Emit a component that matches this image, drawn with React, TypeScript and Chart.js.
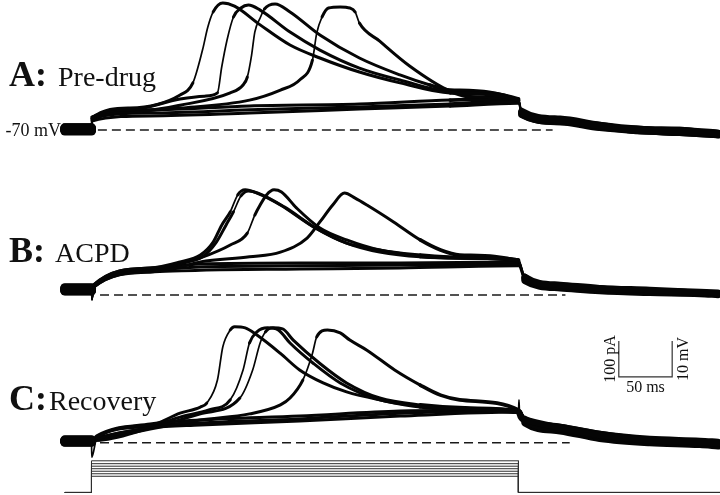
import { useEffect, useRef } from "react";
import { Chart, registerables } from "chart.js";

Chart.register(...registerables);

type Pt = [number, number];

// ---------- DATA (time in ms from step onset, membrane potential in mV) ----------
// Panel A: Pre-drug
const preDrug1: Pt[] = [[-25,-69.7],[0,-69.7],[0.5,-66.7],[36,-63.9],[83,-60.3],[95,-56.9],[104,-47.8],[109,-41.4],[114,-37.2],[123,-34.7],[134,-35.6],[158,-40.8],[186,-46.4],[214,-50],[251,-53.9],[289,-56.9],[336,-59.7],[400,-61.7],[403,-65],[439,-67.2],[476,-68.9],[514,-70],[551,-70.3],[587,-71.1]];
const preDrug2: Pt[] = [[-25,-69.4],[0,-69.4],[0.5,-66.9],[36,-64.4],[83,-61.4],[106,-60.6],[118,-59.7],[122,-52.5],[127,-45],[133,-38.6],[140,-36.1],[147,-35.3],[158,-36.7],[186,-42.8],[214,-47.8],[251,-52.8],[289,-56.1],[336,-59.2],[400,-61.4],[403,-65.3],[439,-67.5],[476,-69.2],[514,-69.7],[551,-70.6],[587,-70.8]];
const preDrug3: Pt[] = [[-25,-70],[0,-70],[0.5,-67.2],[36,-65],[83,-63.1],[130,-59.7],[142,-57.5],[146,-55.3],[150,-49.2],[153,-42.8],[158,-38.9],[162,-36.4],[172,-35],[186,-37.2],[214,-43.6],[251,-50],[289,-54.7],[317,-57.5],[336,-58.9],[400,-61.9],[403,-65.6],[439,-67.8],[476,-68.6],[514,-70.3],[551,-70],[587,-71.4]];
const preDrug4: Pt[] = [[-25,-69.9],[0,-69.9],[0.5,-66.4],[36,-64.7],[83,-63.9],[148,-61.7],[177,-58.9],[195,-56.1],[207,-50.6],[211,-43.1],[216,-38.6],[222,-36.1],[233,-35.8],[242,-36.1],[247,-37.2],[251,-40.3],[270,-45.3],[298,-52.2],[336,-59.2],[355,-60.8],[400,-61.7],[403,-65],[439,-67.5],[476,-69.2],[514,-70.3],[551,-70.8],[587,-71.4]];
const preDrug5: Pt[] = [[-25,-69.4],[0,-69.4],[0.5,-66.4],[55,-64.4],[148,-63.3],[251,-62.8],[336,-61.7],[400,-61.4],[403,-64.7],[439,-66.9],[476,-68.6],[514,-69.7],[551,-70],[587,-70.8]];
const preDrug6: Pt[] = [[-25,-70],[0,-70],[0.5,-66.9],[55,-65.3],[148,-64.4],[251,-63.6],[336,-62.8],[400,-61.9],[403,-65.3],[439,-67.5],[476,-69.2],[514,-70],[551,-70.6],[587,-71.1]];
const preDrug7: Pt[] = [[-25,-70.3],[0,-70.3],[0.5,-67.5],[55,-66.1],[148,-65.3],[251,-64.2],[336,-63.3],[400,-62.5],[403,-65.8],[439,-67.8],[476,-69.4],[514,-70.3],[551,-70.8],[587,-71.4]];

// Panel B: ACPD
const acpd1: Pt[] = [[-25,-68.3],[0,-68.3],[0.5,-71.4],[2,-67.2],[55,-62.5],[83,-60.8],[102,-58.9],[114,-55.3],[122,-50.6],[130,-46.9],[137,-42.2],[144,-40.8],[155,-41.7],[177,-45],[208,-51.1],[239,-55.6],[270,-58.1],[308,-59.4],[355,-59.7],[400,-60.3],[406,-65],[439,-67.2],[476,-68.1],[523,-68.6],[570,-69.2],[587,-69.4]];
const acpd2: Pt[] = [[-25,-68.6],[0,-68.6],[0.5,-71],[2,-67.5],[55,-62.8],[83,-61.1],[104,-59.4],[117,-55.3],[126,-50.6],[133,-46.9],[140,-42.5],[147,-41.1],[156,-41.7],[181,-45.6],[210,-51.4],[239,-55.6],[270,-57.5],[308,-59.2],[355,-59.7],[400,-60.6],[406,-65.3],[439,-67.5],[476,-68.3],[523,-68.9],[570,-69.4],[587,-69.7]];
const acpd3: Pt[] = [[-25,-68],[0,-68],[0.5,-70.8],[2,-67.8],[55,-63.1],[83,-61.4],[102,-59.7],[130,-56.1],[146,-52.8],[153,-47.8],[158,-45],[164,-42.2],[171,-40.8],[178,-41.4],[192,-45.8],[214,-51.4],[239,-54.7],[270,-57.5],[308,-58.9],[355,-59.7],[400,-60.3],[406,-65],[439,-67.8],[476,-68.6],[523,-69.2],[570,-69.4],[587,-69.7]];
const acpd4: Pt[] = [[-25,-68.8],[0,-68.8],[0.5,-71.2],[2,-67.8],[55,-63.6],[83,-62.2],[102,-60.8],[148,-59.4],[177,-58.1],[202,-54.2],[214,-49.7],[226,-45],[237,-41.7],[247,-43.1],[258,-45],[283,-49.7],[308,-54.7],[327,-57.5],[345,-58.9],[400,-60.6],[406,-65.3],[439,-67.5],[476,-68.3],[523,-68.9],[570,-69.4],[587,-69.7]];
const acpd5: Pt[] = [[-25,-68.1],[0,-68.1],[0.5,-71],[2,-67.2],[55,-62.5],[102,-61.4],[195,-61.1],[289,-61.1],[400,-60.8],[406,-65.6],[439,-67.5],[476,-68.3],[523,-68.9],[570,-69.4],[587,-69.7]];
const acpd6: Pt[] = [[-25,-68.5],[0,-68.5],[0.5,-71.2],[2,-67.5],[55,-63.1],[102,-62.2],[195,-61.9],[289,-61.7],[400,-61.4],[406,-65.8],[439,-67.8],[476,-68.6],[523,-69.2],[570,-69.4],[587,-69.7]];
const acpd7: Pt[] = [[-25,-68.9],[0,-68.9],[0.5,-71.4],[2,-67.8],[55,-63.6],[102,-63.1],[195,-62.8],[289,-62.5],[400,-61.9],[406,-66.1],[439,-68.1],[476,-68.9],[523,-69.4],[570,-69.7],[587,-70]];

// Panel C: Recovery
const recovery1: Pt[] = [[-25,-69.5],[0,-69.5],[0.3,-74],[5,-68.7],[55,-65.1],[83,-61.8],[102,-60.1],[108,-59],[118,-52.6],[123,-43.4],[130,-38.7],[134,-37.8],[144,-38.1],[155,-40.1],[177,-45.2],[195,-49.8],[217,-53.4],[239,-55.9],[270,-58.1],[308,-60.1],[355,-60.6],[400,-61.5],[400.5,-58.1],[401,-61.8],[406,-63.7],[439,-65.9],[476,-67.9],[523,-69.3],[570,-69.8],[587,-70.1]];
const recovery2: Pt[] = [[-25,-69.8],[0,-69.8],[5,-69],[55,-65.6],[83,-62.9],[110,-60.9],[130,-58.1],[142,-49.8],[148,-42.3],[155,-39.2],[165,-38.1],[175,-38.7],[186,-42.3],[208,-48],[233,-53.4],[270,-58.1],[308,-59.8],[355,-60.6],[400,-61.2],[406,-64],[439,-66.2],[476,-68.1],[523,-69.5],[570,-70.1],[587,-70.3]];
const recovery3: Pt[] = [[-25,-69.3],[0,-69.3],[5,-69.3],[55,-65.9],[102,-62],[139,-57.6],[151,-49.8],[158,-42.3],[163,-39.2],[170,-38.1],[179,-38.4],[189,-41.5],[214,-48],[239,-53.4],[270,-57.6],[308,-59.5],[355,-60.4],[400,-61.2],[406,-63.4],[439,-65.6],[476,-67.6],[523,-69],[570,-69.5],[587,-69.8]];
const recovery4: Pt[] = [[-25,-69.6],[0,-69.6],[5,-69.3],[55,-66.2],[102,-63.7],[148,-62],[177,-59.5],[186,-57.6],[198,-52.6],[207,-45.2],[211,-40.6],[221,-38.7],[233,-39.5],[242,-41.5],[258,-44.3],[284,-49.8],[308,-54],[327,-56.8],[345,-58.1],[400,-60.9],[406,-63.7],[439,-66.2],[476,-68.4],[523,-69.8],[570,-70.4],[587,-70.6]];
const recovery5: Pt[] = [[-25,-69.5],[0,-69.5],[5,-68.1],[55,-64.8],[102,-63.7],[195,-62.6],[289,-61.2],[400,-60.9],[406,-64.3],[439,-66.5],[476,-68.4],[523,-69.8],[570,-70.4],[587,-70.6]];
const recovery6: Pt[] = [[-25,-69.9],[0,-69.9],[5,-68.4],[55,-65.4],[102,-64.5],[195,-63.4],[289,-61.8],[400,-61.2],[406,-63.7],[439,-65.6],[476,-67.6],[523,-69.3],[570,-69.8],[587,-70.1]];
const recovery7: Pt[] = [[-25,-69.2],[0,-69.2],[5,-68.7],[55,-65.9],[102,-65.1],[195,-64],[289,-62.6],[400,-61.5],[406,-64.6],[439,-66.8],[476,-68.9],[523,-70.1],[570,-70.6],[587,-71]];

// Current steps (pA), step timing (ms)
const stepCurrents = [45, 52, 59, 66, 73, 80, 88];
const stepTimes = [-25, 0, 400, 590]; // record start, step on, step off, record end

// Resting potential reference (dashed lines), mV, and their time spans (ms)
const restPotential = -70;
const dashSpans: Pt[] = [[6, 432], [8, 444], [8, 448]];

// Text
const panelLetters = ["A:", "B:", "C:"];
const panelNames = ["Pre-drug", "ACPD", "Recovery"];
const restLabel = "-70 mV";
const scaleBarLengths = { ms: 50, mV: 10, pA: 100 };
const scaleBarLabels = ["100 pA", "50 ms", "10 mV"];

// ---------- LAYOUT (not data) ----------
const W = 720, H = 495;
const X_MIN = -85.7, X_MAX = 588.8;
const Y_MIN = -137.5, Y_MAX = 0;
const panelOffsets = [33.89, -11.94, -52.97]; // vertical placement of panels A, B, C
const stimOffset = -136.8;                     // baseline of current trace
const pAtoUnits = scaleBarLengths.mV / scaleBarLengths.pA; // 100 pA drawn as tall as 10 mV
const scaleBarAt = { x: 494, y: -104.7 };

const panels = [
  [preDrug1, preDrug2, preDrug3, preDrug4, preDrug5, preDrug6, preDrug7],
  [acpd1, acpd2, acpd3, acpd4, acpd5, acpd6, acpd7],
  [recovery1, recovery2, recovery3, recovery4, recovery5, recovery6, recovery7],
];

const FONT = '"Liberation Serif", "Times New Roman", serif';

export default function App() {
  const ref = useRef<HTMLCanvasElement | null>(null);

  useEffect(() => {
    document.body.style.margin = "0";
    const canvas = ref.current!;
    const datasets: any[] = [];

    panels.forEach((traces, pi) => {
      traces.forEach((tr) => {
        datasets.push({
          data: tr.map(([t, v]) => ({ x: t, y: v + panelOffsets[pi] })),
          borderColor: "#050505",
          borderWidth: 3,
          borderJoinStyle: "round",
          borderCapStyle: "round",
          pointRadius: 0,
          cubicInterpolationMode: "monotone",
          segment: {
            borderWidth: (c: any) => {
              const x0 = c.p0.parsed.x, x1 = c.p1.parsed.x;
              if (x1 <= 0.1) return 9;
              if (x0 >= 401) return 6.5;
              const slope = Math.abs(c.p1.parsed.y - c.p0.parsed.y) / Math.max(x1 - x0, 0.01);
              if (slope > 0.6) return 1.7;
              return x0 >= 300 ? 3.6 : 3;
            },
          },
        });
      });
    });

    dashSpans.forEach(([t0, t1], pi) => {
      datasets.push({
        data: [
          { x: t0, y: restPotential + panelOffsets[pi] },
          { x: t1, y: restPotential + panelOffsets[pi] },
        ],
        borderColor: "#1a1a1a",
        borderWidth: 1.6,
        borderDash: [9, 5],
        pointRadius: 0,
      });
    });

    stepCurrents.forEach((I) => {
      const lvl = I * pAtoUnits + stimOffset;
      datasets.push({
        data: [
          { x: stepTimes[0], y: stimOffset },
          { x: stepTimes[1], y: stimOffset },
          { x: stepTimes[1], y: lvl },
          { x: stepTimes[2], y: lvl },
          { x: stepTimes[2], y: stimOffset },
          { x: stepTimes[3], y: stimOffset },
        ],
        borderColor: "#2e2e2e",
        borderWidth: 1,
        pointRadius: 0,
        tension: 0,
      });
    });

    // scale bar
    datasets.push({
      data: [
        { x: scaleBarAt.x, y: scaleBarAt.y + scaleBarLengths.mV },
        { x: scaleBarAt.x, y: scaleBarAt.y },
        { x: scaleBarAt.x + scaleBarLengths.ms, y: scaleBarAt.y },
        { x: scaleBarAt.x + scaleBarLengths.ms, y: scaleBarAt.y + scaleBarLengths.mV },
      ],
      borderColor: "#333",
      borderWidth: 1.2,
      pointRadius: 0,
      tension: 0,
    });

    const textPlugin = {
      id: "figText",
      afterDatasetsDraw(chart: any) {
        const ctx = chart.ctx as CanvasRenderingContext2D;
        const xs = chart.scales.x, ys = chart.scales.y;
        ctx.save();
        ctx.fillStyle = "#111";
        ctx.textBaseline = "alphabetic";
        const letterBase = [86, 262, 410];
        const nameX = [58, 55, 49];
        panelLetters.forEach((l, i) => {
          ctx.textAlign = "left";
          ctx.font = `bold 36px ${FONT}`;
          ctx.fillText(l, 9, letterBase[i]);
          ctx.font = `28px ${FONT}`;
          ctx.fillText(panelNames[i], nameX[i], letterBase[i]);
        });
        ctx.font = `18px ${FONT}`;
        ctx.textAlign = "right";
        ctx.fillText(restLabel, 61, ys.getPixelForValue(restPotential + panelOffsets[0]) + 6);

        const bx0 = xs.getPixelForValue(scaleBarAt.x);
        const bx1 = xs.getPixelForValue(scaleBarAt.x + scaleBarLengths.ms);
        const by0 = ys.getPixelForValue(scaleBarAt.y);
        const by1 = ys.getPixelForValue(scaleBarAt.y + scaleBarLengths.mV);
        ctx.font = `16px ${FONT}`;
        ctx.textAlign = "center";
        ctx.fillText(scaleBarLabels[1], (bx0 + bx1) / 2, by0 + 15);
        ctx.save();
        ctx.translate(bx0 - 4, (by0 + by1) / 2);
        ctx.rotate(-Math.PI / 2);
        ctx.fillText(scaleBarLabels[0], 0, 0);
        ctx.restore();
        ctx.save();
        ctx.translate(bx1 + 16, (by0 + by1) / 2);
        ctx.rotate(-Math.PI / 2);
        ctx.fillText(scaleBarLabels[2], 0, 0);
        ctx.restore();
        ctx.restore();
      },
    };

    const chart = new Chart(canvas, {
      type: "line",
      data: { datasets },
      options: {
        responsive: false,
        animation: false,
        events: [],
        layout: { padding: 0 },
        plugins: { legend: { display: false }, tooltip: { enabled: false } },
        scales: {
          x: { type: "linear", display: false, min: X_MIN, max: X_MAX },
          y: { type: "linear", display: false, min: Y_MIN, max: Y_MAX },
        },
        elements: { point: { radius: 0 } },
      },
      plugins: [textPlugin],
    } as any);
    return () => chart.destroy();
  }, []);

  return (
    <div style={{ position: "fixed", left: 0, top: 0, width: W, height: H, background: "#fff" }}>
      <canvas ref={ref} width={W} height={H} style={{ width: W, height: H, display: "block" }} />
    </div>
  );
}
